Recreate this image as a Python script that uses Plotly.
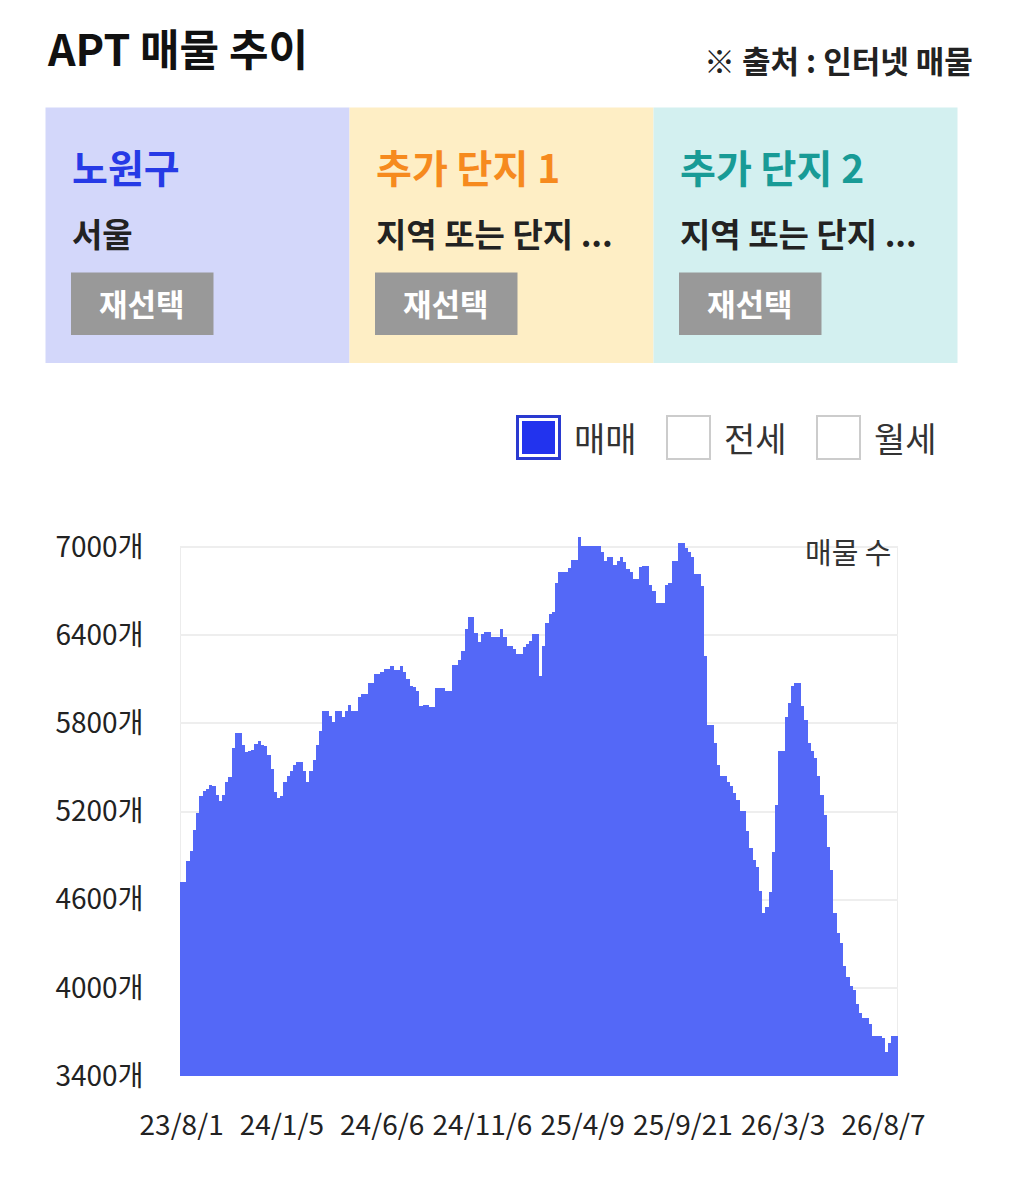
import plotly.graph_objects as go

# listing counts, one value per bar
listings = [
    4720, 4720, 4860, 4930, 5070, 5190, 5300, 5340, 5350, 5380,
    5370, 5310, 5270, 5310, 5400, 5430, 5630, 5730, 5730, 5650,
    5600, 5610, 5615, 5655, 5675, 5650, 5645, 5580, 5490, 5330,
    5290, 5300, 5400, 5440, 5470, 5515, 5533, 5533, 5472, 5399,
    5470, 5550, 5647, 5744, 5878, 5878, 5849, 5805, 5878, 5878,
    5842, 5878, 5919, 5878, 5878, 5980, 6000, 6000, 6072, 6072,
    6133, 6133, 6150, 6169, 6169, 6189, 6162, 6162, 6189, 6145,
    6096, 6053, 6048, 6019, 5914, 5919, 5919, 5907, 5907, 6036,
    6036, 6036, 6019, 6019, 6194, 6194, 6230, 6291, 6441, 6522,
    6522, 6412, 6351, 6405, 6420, 6420, 6388, 6388, 6388, 6441,
    6388, 6327, 6327, 6303, 6271, 6271, 6315, 6334, 6356, 6405,
    6405, 6121, 6327, 6480, 6539, 6558, 6750, 6830, 6830, 6830,
    6854, 6910, 6910, 7063, 7007, 7007, 7002, 7002, 7002, 7002,
    6966, 6900, 6927, 6927, 6874, 6903, 6927, 6898, 6849, 6830,
    6781, 6781, 6862, 6869, 6869, 6740, 6696, 6619, 6619, 6619,
    6740, 6752, 6903, 6903, 7024, 7024, 6990, 6966, 6927, 6813,
    6813, 6733, 6254, 5786, 5786, 5664, 5513, 5441, 5441, 5397,
    5373, 5324, 5275, 5198, 5198, 5064, 4950, 4870, 4821, 4658,
    4506, 4547, 4650, 4923, 5239, 5611, 5611, 5842, 5939, 6053,
    6072, 6072, 5914, 5817, 5664, 5606, 5562, 5441, 5307, 5173,
    4955, 4797, 4506, 4372, 4300, 4149, 4068, 4008, 3983, 3886,
    3825, 3789, 3789, 3753, 3672, 3672, 3672, 3655, 3558, 3619,
    3672, 3672,
]
date_labels = ["23/8/1", "24/1/5", "24/6/6", "24/11/6", "25/4/9", "25/9/21", "26/3/3", "26/8/7"]
label_index = [0, 31, 62, 93, 124, 155, 186, 217]
y_ticks = [3400, 4000, 4600, 5200, 5800, 6400, 7000]

panel_titles = ["노원구", "추가 단지 1", "추가 단지 2"]
panel_subs = ["서울", "지역 또는 단지 ...", "지역 또는 단지 ..."]
deal_types = ["매매", "전세", "월세"]

W, H = 1026, 1202
FONT = "Noto Sans CJK KR, Noto Sans, sans-serif"
BAR = "#5468f7"
PANEL_BG = ["#d3d7fa", "#feeec5", "#d3f0f0"]
PANEL_FG = ["#263ae6", "#f68a1e", "#189b96"]


def px(x):
    return x / W


def py(y):
    return 1 - y / H


def label(x, y, text, size, color, anchor="left"):
    # page-pixel placed text
    return dict(x=px(x), y=py(y), xref="paper", yref="paper", text=text, xanchor=anchor,
                yanchor="middle", showarrow=False, font=dict(size=size, color=color))


def box(x0, y0, x1, y1, fill, line_color=None, line_width=0, layer="above"):
    return dict(type="rect", xref="paper", yref="paper", x0=px(x0), x1=px(x1), y0=py(y1), y1=py(y0),
                fillcolor=fill, line=dict(color=line_color or fill, width=line_width), layer=layer)


fig = go.Figure()
fig.add_trace(
    go.Bar(
        x=list(range(len(listings))),
        y=listings,
        width=1.04,  # slight overlap so no seams between bars
        marker=dict(color=BAR, line=dict(width=0)),
        hoverinfo="skip",
    )
)

shapes = []
annotations = []

# title + source
annotations.append(label(45, 47, "<b>APT 매물 추이</b>", 43, "#111"))
annotations.append(label(975, 60, "<b>※ 출처 : 인터넷 매물</b>", 31, "#222", anchor="right"))

# three selection panels
for k in range(3):
    left = 45.5 + k * 304
    shapes.append(box(left, 107.5, left + 304, 363, PANEL_BG[k], layer="below"))
    tx = left + 25.5
    annotations.append(label(tx - 1, 166, "<b>%s</b>" % panel_titles[k], 39, PANEL_FG[k]))
    annotations.append(label(tx - 1, 233, "<b>%s</b>" % panel_subs[k], 33, "#222"))
    shapes.append(box(tx, 272.5, tx + 142.5, 335, "#999999"))
    annotations.append(label(tx + 71, 302, "<b>재선택</b>", 31, "white", anchor="center"))

# deal type checkboxes
for k, name in enumerate(deal_types):
    bx = 516 + k * 150
    if k == 0:
        shapes.append(box(bx + 1.5, 416.5, bx + 43.5, 458.5, "white", "#2a3ad0", 3))
        shapes.append(box(bx + 6, 421, bx + 39, 454, "#2233ee"))
    else:
        shapes.append(box(bx + 1, 416, bx + 44, 459, "white", "#cccccc", 2))
    annotations.append(label(bx + 56, 437, name, 34, "#333"))

# chart frame verticals
for xv in (-0.5, len(listings) - 0.5):
    shapes.append(dict(type="line", xref="x", yref="y", x0=xv, x1=xv, y0=3400, y1=7000,
                       line=dict(color="#ececec", width=2), layer="below"))

annotations.append(label(894, 551, "매물 수", 29, "#333", anchor="right"))

fig.update_layout(
    width=W,
    height=H,
    margin=dict(l=0, r=0, t=0, b=0, autoexpand=False),
    paper_bgcolor="white",
    plot_bgcolor="white",
    font=dict(family=FONT, color="#222"),
    bargap=0,
    showlegend=False,
    shapes=shapes,
    annotations=annotations,
    xaxis=dict(
        domain=[px(180), px(898)],
        range=[-0.5, len(listings) - 0.5],
        tickvals=label_index,
        ticktext=date_labels,
        ticks="outside",
        ticklen=24,
        tickcolor="rgba(0,0,0,0)",
        showgrid=False,
        zeroline=False,
        showline=False,
        automargin=False,
        tickfont=dict(size=28, color="#222"),
        fixedrange=True,
    ),
    yaxis=dict(
        domain=[py(1076), py(529.4)],
        range=[3400, 7120],
        tickvals=y_ticks,
        ticktext=["%d개" % v for v in y_ticks],
        ticks="outside",
        ticklen=30,
        tickcolor="rgba(0,0,0,0)",
        showgrid=True,
        gridcolor="#eeeeee",
        gridwidth=2,
        zeroline=False,
        showline=False,
        automargin=False,
        tickfont=dict(size=28, color="#222"),
        fixedrange=True,
    ),
)

fig.write_html(
    "out.html",
    config={"displayModeBar": False},
    post_script="document.body.style.margin='0';document.body.style.overflow='hidden';",
)
